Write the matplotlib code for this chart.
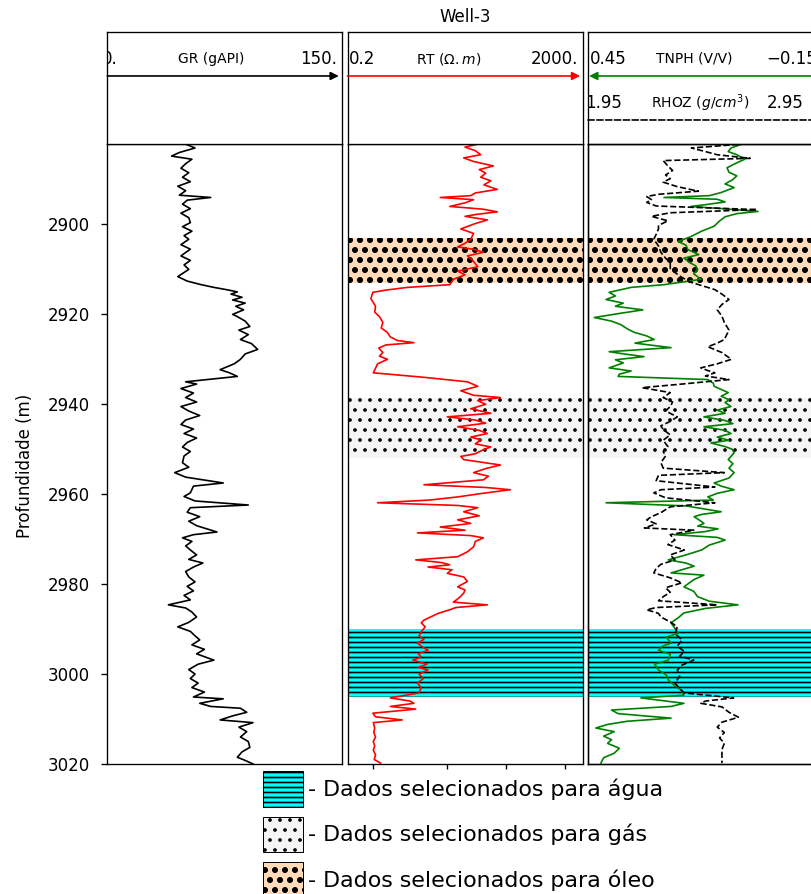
import matplotlib.pyplot as plt
import matplotlib.patches as mpatches

DPI = 120
W, H = 811, 894

# ---- log readings (depth in m) ----
gr_depth = [2882.0, 2883.0, 2884.0, 2884.8, 2885.5, 2886.5, 2887.5, 2888.5, 2889.5, 2890.5,
            2891.5, 2892.5, 2893.5, 2894.0, 2894.6, 2895.5, 2896.5, 2897.5, 2898.5, 2899.6,
            2900.5, 2901.5, 2902.5, 2903.3, 2904.5, 2905.5, 2907.0, 2908.0, 2909.0, 2910.0,
            2911.6, 2912.6, 2913.4, 2914.0, 2914.5, 2915.0, 2915.5, 2916.2, 2916.8, 2917.5,
            2918.2, 2919.0, 2920.0, 2920.5, 2921.5, 2922.7, 2923.5, 2924.5, 2925.6, 2926.5,
            2927.8, 2928.8, 2930.0, 2931.0, 2932.3, 2933.0, 2933.8, 2934.5, 2935.0, 2935.5,
            2936.5, 2937.5, 2938.5, 2939.5, 2940.5, 2941.5, 2942.5, 2943.5, 2944.5, 2945.5,
            2946.5, 2947.5, 2948.5, 2949.5, 2950.5, 2951.5, 2953.0, 2954.0, 2955.2, 2956.2,
            2957.5, 2958.2, 2959.7, 2960.5, 2961.5, 2962.4, 2963.0, 2964.0, 2965.0, 2966.0,
            2967.0, 2968.4, 2969.0, 2969.7, 2970.5, 2971.5, 2972.4, 2973.5, 2974.5, 2975.3,
            2976.2, 2977.2, 2978.4, 2979.5, 2980.5, 2981.5, 2982.5, 2983.5, 2984.6, 2985.3,
            2986.2, 2987.3, 2988.5, 2989.5, 2990.5, 2991.5, 2992.4, 2993.5, 2994.5, 2995.5,
            2996.9, 2997.8, 2999.0, 3000.0, 3001.0, 3002.0, 3003.0, 3004.0, 3005.1, 3005.5,
            3006.5, 3007.2, 3007.6, 3008.5, 3009.3, 3010.2, 3010.8, 3011.8, 3012.8, 3014.0,
            3015.0, 3016.3, 3017.3, 3018.5, 3019.2, 3020.0]
gr_value = [49, 56, 46, 41, 54, 50, 47, 52, 48, 53,
            45, 50, 46, 66, 51, 48, 53, 47, 52, 53,
            48, 54, 49, 52, 47, 53, 47, 53, 49, 52,
            45, 51, 60, 68, 76, 83, 79, 86, 80, 88,
            82, 87, 80, 83, 88, 91, 84, 90, 85, 92,
            96, 88, 85, 81, 72, 78, 83, 64, 50, 57,
            47, 55, 50, 57, 47, 52, 59, 50, 47, 55,
            49, 57, 51, 48, 53, 49, 48, 52, 43, 50,
            74, 55, 53, 49, 56, 90, 53, 51, 59, 52,
            57, 70, 55, 48, 54, 50, 53, 57, 52, 61,
            55, 50, 52, 56, 51, 55, 49, 53, 39, 50,
            54, 57, 52, 45, 53, 56, 59, 54, 62, 57,
            68, 58, 52, 56, 53, 58, 54, 62, 55, 74,
            59, 66, 85, 89, 80, 72, 93, 84, 89, 85,
            90, 91, 86, 83, 88, 93]

rt_depth = [2882.0, 2882.8, 2883.6, 2884.5, 2885.2, 2886.0, 2887.0, 2887.8, 2888.6, 2889.5,
            2890.3, 2891.2, 2892.2, 2893.0, 2893.6, 2894.0, 2894.5, 2895.2, 2896.0, 2896.6,
            2897.2, 2897.8, 2898.2, 2899.0, 2899.8, 2901.0, 2902.0, 2903.3, 2904.2, 2905.0,
            2905.6, 2906.2, 2907.0, 2908.0, 2909.4, 2910.4, 2911.2, 2912.2, 2913.4, 2914.0,
            2914.6, 2915.1, 2916.5, 2918.2, 2919.5, 2920.5, 2921.8, 2923.0, 2924.0, 2925.0,
            2925.8, 2926.3, 2926.8, 2927.5, 2928.5, 2929.3, 2930.0, 2931.0, 2932.0, 2933.0,
            2934.0, 2935.0, 2936.0, 2937.0, 2938.0, 2938.5, 2939.2, 2940.0, 2941.0, 2942.0,
            2942.8, 2943.5, 2944.2, 2945.0, 2945.8, 2946.5, 2947.3, 2947.9, 2948.8, 2949.5,
            2950.1, 2951.0, 2951.6, 2952.3, 2953.5, 2954.3, 2955.2, 2956.0, 2956.8, 2957.9,
            2958.5, 2959.0, 2959.8, 2960.6, 2961.3, 2961.9, 2962.5, 2963.0, 2963.9, 2964.8,
            2965.7, 2966.5, 2967.3, 2968.0, 2968.6, 2969.2, 2969.7, 2970.5, 2971.7, 2972.8,
            2973.9, 2974.6, 2975.2, 2975.7, 2976.2, 2976.8, 2977.6, 2978.4, 2979.4, 2980.6,
            2981.3, 2982.0, 2983.0, 2984.0, 2984.6, 2985.2, 2985.7, 2986.5, 2987.3, 2988.0,
            2988.6, 2989.5, 2990.6, 2991.5, 2992.3, 2993.1, 2994.0, 2994.7, 2995.5, 2996.2,
            2996.9, 2997.8, 2998.5, 2999.1, 3000.0, 3001.0, 3002.0, 3003.0, 3004.2, 3005.3,
            3006.0, 3006.5, 3007.2, 3007.8, 3008.7, 3009.5, 3010.2, 3010.8, 3012.0, 3013.0,
            3014.0, 3015.0, 3016.0, 3016.9, 3018.0, 3019.0, 3019.8]
rt_value = [37, 20, 30, 37, 19, 28, 61, 35, 45, 37,
            55, 42, 71, 30, 25, 7.6, 28, 20, 11, 40,
            71, 30, 20, 48, 30, 17, 28, 25, 20, 15,
            30, 41, 22, 27, 33, 15, 20, 12.7, 11, 2.1,
            0.9, 0.54, 0.5, 0.6, 0.58, 0.7, 0.8, 0.75, 0.95, 1.07,
            1.4, 2.7, 0.9, 0.68, 0.8, 0.7, 0.96, 0.65, 0.6, 0.55,
            4, 22, 33, 17, 28, 80, 33, 45, 25, 55,
            10, 30, 45, 15, 35, 48, 25, 37, 30, 55,
            41, 30, 17, 19, 80, 45, 28, 50, 41, 4,
            45, 118, 40, 15, 5, 0.65, 15, 33, 19, 35,
            15, 25, 7.6, 20, 3.1, 25, 41, 30, 28, 22,
            15, 2.9, 8, 11, 4.7, 12, 10, 19, 22, 15,
            20, 19, 16, 12.7, 48, 14, 11, 7, 5.2, 4,
            3.6, 4.2, 3.6, 3.3, 4, 3.1, 3.8, 4.7, 3.2, 3.6,
            2.6, 4.5, 3.2, 4.7, 3.3, 3.9, 3.1, 3.6, 3.3, 1.07,
            2.3, 2.7, 1.07, 2.9, 0.54, 0.6, 1.7, 0.55, 0.58, 0.56,
            0.6, 0.55, 0.58, 0.55, 0.6, 0.57, 0.73]

tnph_depth = [2882.2, 2883.0, 2883.8, 2884.5, 2885.5, 2886.5, 2887.4, 2888.4, 2889.2, 2890.0,
              2891.0, 2891.8, 2892.9, 2893.6, 2894.0, 2894.4, 2895.0, 2895.6, 2896.0, 2896.6,
              2897.1, 2897.6, 2898.3, 2899.3, 2900.4, 2901.5, 2902.7, 2903.8, 2904.6, 2905.6,
              2906.7, 2907.5, 2908.5, 2909.2, 2910.0, 2911.0, 2912.2, 2913.4, 2914.0, 2915.1,
              2915.9, 2916.7, 2917.5, 2918.2, 2919.0, 2919.8, 2920.7, 2921.5, 2922.3, 2923.2,
              2924.0, 2924.8, 2925.6, 2926.4, 2927.4, 2928.3, 2928.9, 2929.4, 2930.1, 2930.8,
              2931.9, 2932.6, 2933.3, 2933.8, 2934.5, 2935.3, 2936.0, 2936.7, 2937.4, 2938.2,
              2939.0, 2939.6, 2940.5, 2941.3, 2942.0, 2942.8, 2943.6, 2944.3, 2945.0, 2945.8,
              2946.5, 2947.3, 2948.0, 2948.6, 2949.4, 2950.0, 2950.8, 2951.6, 2952.3, 2953.2,
              2954.2, 2955.2, 2956.4, 2957.5, 2958.2, 2959.0, 2959.8, 2960.6, 2961.3, 2961.9,
              2962.6, 2963.9, 2964.5, 2965.0, 2965.8, 2966.5, 2967.1, 2967.7, 2968.3, 2969.0,
              2969.6, 2970.2, 2971.3, 2972.4, 2973.5, 2974.6, 2975.3, 2976.0, 2976.8, 2977.5,
              2978.0, 2979.0, 2980.6, 2981.6, 2982.8, 2983.8, 2984.6, 2985.4, 2986.4, 2987.5,
              2988.6, 2989.6, 2990.9, 2991.8, 2993.1, 2993.8, 2994.7, 2995.6, 2996.9, 2997.8,
              2999.1, 3000.2, 3001.3, 3002.5, 3003.6, 3004.7, 3005.3, 3006.0, 3006.5, 3007.2,
              3008.0, 3008.8, 3009.8, 3010.5, 3011.2, 3012.0, 3012.8, 3013.8, 3014.6, 3015.4,
              3016.5, 3017.6, 3018.6, 3019.8]
tnph_value = [0.059, 0.085, 0.092, 0.07, 0.05, 0.075, 0.095, 0.09, 0.07, 0.08,
              0.1, 0.077, 0.11, 0.14, 0.256, 0.12, 0.1, 0.15, 0.187, 0.09,
              0.016, 0.07, 0.1, 0.115, 0.128, 0.16, 0.187, 0.22, 0.2, 0.195,
              0.167, 0.205, 0.19, 0.175, 0.17, 0.18, 0.161, 0.256, 0.34, 0.396,
              0.38, 0.404, 0.36, 0.38, 0.31, 0.37, 0.434, 0.39, 0.366, 0.35,
              0.332, 0.3, 0.281, 0.33, 0.238, 0.396, 0.35, 0.307, 0.38, 0.36,
              0.396, 0.34, 0.37, 0.373, 0.144, 0.13, 0.128, 0.11, 0.092, 0.11,
              0.09, 0.1, 0.085, 0.12, 0.1, 0.154, 0.1, 0.08, 0.154, 0.1,
              0.085, 0.12, 0.09, 0.136, 0.1, 0.082, 0.077, 0.085, 0.092, 0.08,
              0.09, 0.077, 0.09, 0.128, 0.11, 0.077, 0.12, 0.144, 0.13, 0.404,
              0.2, 0.11, 0.16, 0.179, 0.165, 0.154, 0.17, 0.118, 0.15, 0.23,
              0.12, 0.1, 0.14, 0.16, 0.2, 0.245, 0.2, 0.179, 0.21, 0.238,
              0.154, 0.18, 0.205, 0.18, 0.17, 0.14, 0.067, 0.15, 0.205, 0.22,
              0.238, 0.23, 0.22, 0.25, 0.238, 0.26, 0.27, 0.24, 0.245, 0.28,
              0.27, 0.25, 0.245, 0.23, 0.212, 0.205, 0.315, 0.25, 0.205, 0.238,
              0.39, 0.373, 0.238, 0.35, 0.4, 0.43, 0.383, 0.41, 0.39, 0.4,
              0.37, 0.383, 0.41, 0.417]

rhoz_depth = [2882.2, 2883.0, 2883.8, 2884.5, 2885.3, 2885.8, 2887.0, 2888.0, 2889.0, 2889.8,
              2890.6, 2891.6, 2892.6, 2893.3, 2893.8, 2894.5, 2895.1, 2895.9, 2896.7, 2897.4,
              2898.2, 2899.2, 2900.2, 2901.0, 2902.2, 2903.3, 2904.8, 2906.2, 2907.5, 2908.5,
              2909.8, 2910.7, 2911.8, 2912.9, 2914.5, 2915.5, 2916.7, 2917.8, 2919.0, 2920.4,
              2921.8, 2923.5, 2925.6, 2926.4, 2927.2, 2928.5, 2930.0, 2931.0, 2931.9, 2932.5,
              2933.0, 2933.7, 2934.5, 2935.5, 2936.3, 2937.4, 2938.5, 2939.5, 2940.5, 2941.5,
              2942.8, 2943.8, 2944.8, 2945.6, 2946.8, 2948.0, 2949.4, 2950.5, 2951.5, 2953.0,
              2954.2, 2955.2, 2955.8, 2957.0, 2958.4, 2959.0, 2959.7, 2960.8, 2961.9, 2962.8,
              2964.1, 2965.0, 2965.7, 2966.6, 2967.5, 2968.0, 2969.0, 2970.2, 2971.2, 2972.4,
              2973.5, 2974.6, 2975.6, 2976.5, 2977.5, 2978.6, 2979.7, 2980.8, 2981.8, 2982.8,
              2983.7, 2984.6, 2985.2, 2985.7, 2986.5, 2987.3, 2988.4, 2989.5, 2991.0, 2992.4,
              2993.8, 2995.0, 2996.0, 2996.9, 2998.0, 2999.1, 3000.5, 3002.0, 3003.2, 3004.2,
              3005.3, 3006.0, 3006.5, 3007.3, 3008.5, 3009.6, 3010.7, 3011.8, 3013.0, 3014.2,
              3015.4, 3016.8, 3018.2, 3019.8]
rhoz_value = [2.59, 2.39, 2.45, 2.50, 2.64, 2.27, 2.29, 2.31, 2.28, 2.30,
              2.27, 2.33, 2.42, 2.25, 2.20, 2.22, 2.20, 2.24, 2.67, 2.30,
              2.22, 2.29, 2.25, 2.25, 2.24, 2.23, 2.25, 2.26, 2.28, 2.30,
              2.30, 2.32, 2.35, 2.39, 2.49, 2.52, 2.55, 2.52, 2.50, 2.52,
              2.53, 2.55, 2.53, 2.50, 2.46, 2.52, 2.56, 2.50, 2.43, 2.46,
              2.49, 2.45, 2.55, 2.35, 2.18, 2.30, 2.27, 2.31, 2.30, 2.28,
              2.33, 2.30, 2.26, 2.27, 2.30, 2.27, 2.29, 2.27, 2.28, 2.26,
              2.27, 2.53, 2.25, 2.24, 2.49, 2.26, 2.23, 2.28, 2.49, 2.30,
              2.26, 2.22, 2.20, 2.24, 2.19, 2.40, 2.30, 2.32, 2.29, 2.36,
              2.30, 2.32, 2.26, 2.24, 2.23, 2.30, 2.35, 2.28, 2.30, 2.27,
              2.25, 2.50, 2.24, 2.20, 2.25, 2.26, 2.30, 2.33, 2.32, 2.35,
              2.33, 2.36, 2.34, 2.40, 2.35, 2.33, 2.34, 2.32, 2.34, 2.36,
              2.57, 2.45, 2.43, 2.52, 2.55, 2.59, 2.52, 2.50, 2.53, 2.51,
              2.53, 2.52, 2.52, 2.52]

# selected intervals: water, gas, oil
zone_labels = ['- Dados selecionados para água',
               '- Dados selecionados para gás',
               '- Dados selecionados para óleo']
zone_top = [2990.0, 2938.5, 2903.0]
zone_base = [3005.0, 2952.0, 2913.0]

depth_ticks = [2900, 2920, 2940, 2960, 2980, 3000, 3020]
depth_lim = (3020, 2882)

# styles
zone_colors = ['cyan', 'whitesmoke', 'peachpuff']
zone_hatches = ['----', '..', 'oo..']

fig = plt.figure(figsize=(W / DPI, H / DPI), dpi=DPI)

track_left = [107.3, 347.5, 588.0]
track_w = 235.0
main_top, main_bot = 143.5, 764.0
head_top = 31.5


def rect(x0, ytop, ybot):
    return [x0 / W, 1 - ybot / H, track_w / W, (ybot - ytop) / H]


axes = [fig.add_axes(rect(x, main_top, main_bot)) for x in track_left]
heads = [fig.add_axes(rect(x, head_top, main_top)) for x in track_left]

for ax in axes:
    ax.set_ylim(*depth_lim)
    ax.set_xticks([])
    ax.tick_params(left=False, labelleft=False)
for hx in heads:
    hx.set_xlim(0, 1)
    hx.set_ylim(0, 1)
    hx.set_xticks([])
    hx.set_yticks([])

ax1, ax2, ax3 = axes
ax1.set_yticks(depth_ticks)
ax1.tick_params(left=True, labelleft=True, labelsize=10, pad=7)
fig.text(25 / W, 1 - 466 / H, 'Profundidade (m)', rotation=90,
         ha='center', va='center', fontsize=10)

# GR
ax1.plot(gr_value, gr_depth, color='black', lw=1)
ax1.set_xlim(0, 150)

# RT
ax2.set_xscale('log')
ax2.plot(rt_value, rt_depth, color='red', lw=1)
ax2.set_xlim(0.2, 2000)
ax2.set_xticks([0.55, 10, 100, 1000])
ax2.xaxis.set_minor_locator(plt.NullLocator())
ax2.tick_params(axis='x', labelbottom=False, length=3)

# TNPH / RHOZ
ax3.plot(tnph_value, tnph_depth, color='green', lw=1)
ax3.set_xlim(0.45, -0.15)
ax3b = ax3.twiny()
ax3b.plot(rhoz_value, rhoz_depth, color='black', lw=1, ls='--')
ax3b.set_xlim(1.95, 2.95)
ax3b.set_xticks([])
ax3b.set_ylim(*depth_lim)

for ax in (ax2, ax3):
    for top, base, c, h in zip(zone_top, zone_base, zone_colors, zone_hatches):
        ax.axhspan(top, base, facecolor=c, hatch=h, edgecolor='black', lw=0, zorder=0)


def head_text(hx, x, y, s, size, ha='center'):
    hx.text(x, y, s, ha=ha, va='center', fontsize=size, clip_on=True,
            transform=hx.transAxes)


def head_arrow(hx, x0, x1, y, color, ls='-'):
    hx.annotate('', xy=(x1, y), xytext=(x0, y), xycoords='axes fraction',
                arrowprops=dict(arrowstyle='-|>', color=color, lw=1, ls=ls,
                                mutation_scale=10, shrinkA=0, shrinkB=0))


h1, h2, h3 = heads
row1, arr1, row2, arr2 = 0.755, 0.603, 0.36, 0.21

head_text(h1, -0.022, row1, '0.', 10, ha='left')
head_text(h1, 0.443, row1, 'GR (gAPI)', 8.3)
head_text(h1, 0.978, row1, '150.', 10, ha='right')
head_arrow(h1, 0.0, 0.985, arr1, 'black')

head_text(h2, 0.004, row1, '0.2', 10, ha='left')
head_text(h2, 0.43, row1, r'RT ($\Omega.m$)', 8.3)
head_text(h2, 0.982, row1, '2000.', 10, ha='right')
head_arrow(h2, 0.0, 0.99, arr1, 'red')
h2.set_title('Well-3', fontsize=10)

head_text(h3, 0.009, row1, '0.45', 10, ha='left')
head_text(h3, 0.45, row1, 'TNPH (V/V)', 8.3)
head_text(h3, 0.758, row1, '\u22120.15', 10, ha='left')
head_arrow(h3, 1.0, 0.005, arr1, 'green')
head_text(h3, -0.013, row2, '1.95', 10, ha='left')
head_text(h3, 0.477, row2, r'RHOZ ($g/cm^3$)', 8.3)
head_text(h3, 0.762, row2, '2.95', 10, ha='left')
head_arrow(h3, 0.0, 0.99, arr2, 'black', ls='--')

handles = [mpatches.Patch(facecolor=c, hatch=h, edgecolor='black', lw=0.6)
           for c, h in zip(zone_colors, zone_hatches)]
fig.legend(handles, zone_labels, loc='upper left',
           bbox_to_anchor=(263 / W, 1 - 771 / H), frameon=False, fontsize=13.3,
           handlelength=1.8, handleheight=2.1, handletextpad=0.25,
           labelspacing=0.45, borderpad=0, borderaxespad=0)

fig.savefig('out.png', dpi=DPI)
